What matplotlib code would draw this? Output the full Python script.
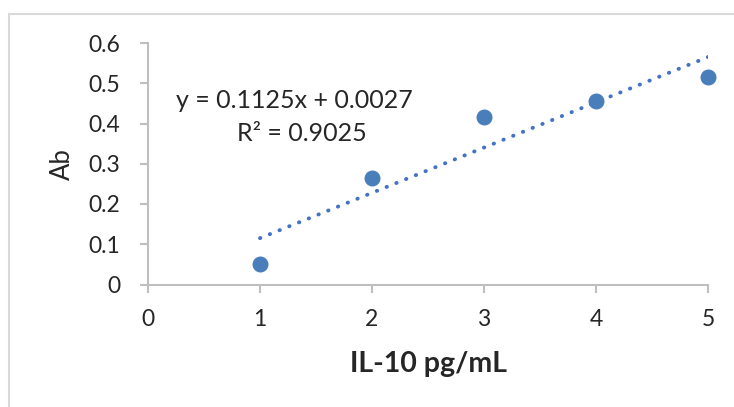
import matplotlib
matplotlib.use("Agg")
import matplotlib.pyplot as plt
from matplotlib.patches import Rectangle
import numpy as np

x_vals = [1, 2, 3, 4, 5]
y_vals = [0.051, 0.264, 0.417, 0.456, 0.516]
x_ticks = [0, 1, 2, 3, 4, 5]
y_ticks = [0, 0.1, 0.2, 0.3, 0.4, 0.5, 0.6]
y_tick_labels = ["0", "0.1", "0.2", "0.3", "0.4", "0.5", "0.6"]
eq_text = "y = 0.1125x + 0.0027"
r2_text = "R² = 0.9025"
slope, intercept = 0.1125, 0.0027

plt.rcParams['font.family'] = ['Lato', 'DejaVu Sans']
W, H = 734, 407
fig = plt.figure(figsize=(W / 100, H / 100), dpi=100)

# outer chart border
fig.patches.append(Rectangle((9 / W, -0.1), 1.1, (H - 14) / H + 0.1, transform=fig.transFigure,
                             fill=False, edgecolor='#d9d9d9', linewidth=1.5))

ax = fig.add_axes([148 / W, (H - 284.5) / H, (708 - 148) / W, (284.5 - 43) / H])
ax.set_xlim(0, 5)
ax.set_ylim(0, 0.6)

tx = np.array([1, 5])
ax.plot(tx, slope * tx + intercept, linestyle=(0, (0.1, 2.6)), dash_capstyle='round',
        color='#4472C4', linewidth=2.8, zorder=2)
ax.plot(x_vals, y_vals, 'o', color='#4A7EBB', markersize=10.5, zorder=3, clip_on=False)

ax.set_xticks(x_ticks)
ax.set_xticklabels([str(t) for t in x_ticks])
ax.set_yticks(y_ticks)
ax.set_yticklabels(y_tick_labels)

for s in ['top', 'right']:
    ax.spines[s].set_visible(False)
for s in ['left', 'bottom']:
    ax.spines[s].set_color('#bfbfbf')
    ax.spines[s].set_linewidth(1.5)
ax.tick_params(axis='both', colors='#bfbfbf', width=1.5, length=6, labelcolor='#262626',
               labelsize=16.5)
ax.tick_params(axis='x', pad=12)
ax.tick_params(axis='y', pad=14)

ax.set_ylabel("Ab", fontsize=18.5, color='#262626', labelpad=10)
ax.set_xlabel("IL-10 pg/mL", fontsize=20.5, fontweight='bold', color='#262626', labelpad=15)

ax.text(1.31, 0.457, eq_text, transform=ax.transData, ha='center', va='center',
        fontsize=18, color='#262626')
ax.text(1.375, 0.375, r2_text, transform=ax.transData, ha='center', va='center',
        fontsize=18, color='#262626')

fig.savefig("out.png", dpi=100)
